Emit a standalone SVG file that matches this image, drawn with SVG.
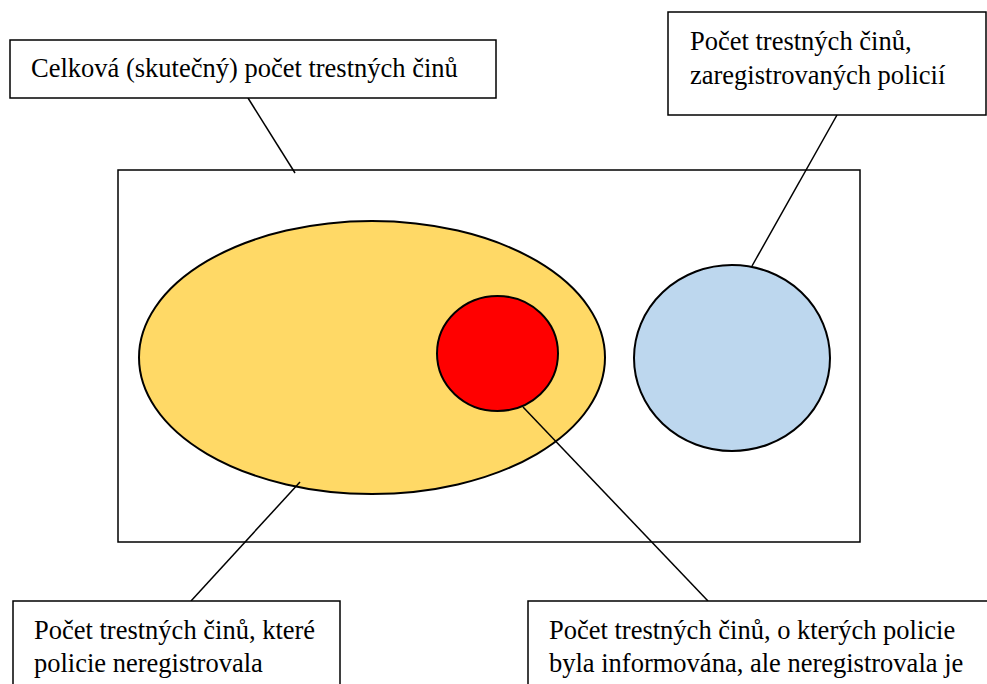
<svg xmlns="http://www.w3.org/2000/svg" width="987" height="684" viewBox="0 0 987 684">
<style>
.box{fill:#fff;stroke:#000;stroke-width:1.5}
.sh{stroke:#000;stroke-width:2}
.c{stroke:#000;stroke-width:1.5;fill:none}
</style>
<rect width="987" height="684" fill="#fff"/>
<g id="total-area">
<rect x="118" y="170" width="742" height="372" class="box"/>
</g>
<g id="unregistered">
<ellipse cx="372" cy="357.5" rx="233" ry="136.5" fill="#FFD966" class="sh"/>
</g>
<g id="informed-unregistered">
<ellipse cx="497.5" cy="353.5" rx="60.5" ry="57.5" fill="#FF0000" class="sh"/>
</g>
<g id="registered">
<ellipse cx="732" cy="358" rx="98" ry="93" fill="#BDD7EE" class="sh"/>
</g>
<g id="connectors">
<line x1="248" y1="98" x2="295" y2="173" class="c"/>
<line x1="837" y1="115" x2="752" y2="266" class="c"/>
<line x1="300" y1="482" x2="191" y2="601" class="c"/>
<line x1="523" y1="407" x2="708" y2="601" class="c"/>
</g>
<g font-size="26.5" fill="#000" font-family="'Liberation Serif', serif">
<g id="label-total">
<rect x="10" y="40" width="486" height="58" class="box"/>
<text x="31" y="77">Celková (skutečný) počet trestných činů</text>
</g>
<g id="label-registered">
<rect x="668" y="12" width="318" height="103" class="box"/>
<text x="690" y="50">Počet trestných činů,</text>
<text x="690" y="84">zaregistrovaných policií</text>
</g>
<g id="label-unregistered">
<rect x="13" y="601" width="327" height="90" class="box"/>
<text x="34" y="639">Počet trestných činů, které</text>
<text x="34" y="672">policie neregistrovala</text>
</g>
<g id="label-informed">
<rect x="528" y="601" width="460" height="90" class="box"/>
<text x="549" y="639">Počet trestných činů, o kterých policie</text>
<text x="549" y="672">byla informována, ale neregistrovala je</text>
</g>
</g>
</svg>
